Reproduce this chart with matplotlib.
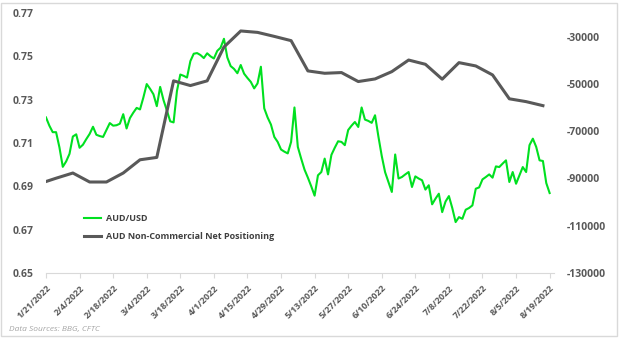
import matplotlib
matplotlib.use("Agg")
import matplotlib.pyplot as plt
import numpy as np
import pandas as pd
from matplotlib.patches import Rectangle
from matplotlib.transforms import ScaledTranslation

# daily AUD/USD closes, 1/21/2022 .. 8/19/2022 (business days)
start_day = "2022-01-21"
end_day = "2022-08-19"
aud_usd = [
    0.7218, 0.7180, 0.7150, 0.7150, 0.7080, 0.6990, 0.7015, 0.7050, 0.7130, 0.7140,
    0.7078, 0.7092, 0.7118, 0.7142, 0.7175, 0.7138, 0.7132, 0.7128, 0.7160, 0.7192,
    0.7180, 0.7182, 0.7189, 0.7233, 0.7167, 0.7215, 0.7240, 0.7262, 0.7255, 0.7310,
    0.7372, 0.7350, 0.7325, 0.7270, 0.7359, 0.7298, 0.7250, 0.7200, 0.7195, 0.7340,
    0.7416, 0.7410, 0.7402, 0.7478, 0.7512, 0.7515, 0.7506, 0.7492, 0.7514, 0.7500,
    0.7490, 0.7525, 0.7540, 0.7581, 0.7495, 0.7455, 0.7442, 0.7422, 0.7460, 0.7420,
    0.7400, 0.7382, 0.7352, 0.7375, 0.7452, 0.7260, 0.7218, 0.7185, 0.7128, 0.7105,
    0.7070, 0.7060, 0.7052, 0.7105, 0.7264, 0.7082, 0.7028, 0.6977, 0.6940, 0.6900,
    0.6857, 0.6951, 0.6966, 0.7028, 0.6955, 0.7045, 0.7078, 0.7108, 0.7105, 0.7090,
    0.7160, 0.7180, 0.7197, 0.7174, 0.7264, 0.7208, 0.7202, 0.7193, 0.7228, 0.7130,
    0.7040, 0.6965, 0.6920, 0.6874, 0.7047, 0.6936, 0.6943, 0.6955, 0.6966, 0.6897,
    0.6946, 0.6936, 0.6928, 0.6885, 0.6905, 0.6817, 0.6843, 0.6866, 0.6781, 0.6830,
    0.6855, 0.6800, 0.6735, 0.6758, 0.6750, 0.6792, 0.6800, 0.6812, 0.6889, 0.6895,
    0.6932, 0.6943, 0.6955, 0.6940, 0.6992, 0.6989, 0.7005, 0.7020, 0.6920, 0.6966,
    0.6912, 0.6951, 0.6989, 0.6966, 0.7090, 0.7120, 0.7082, 0.7020, 0.7017, 0.6915,
    0.6869,
]

# weekly CFTC net positioning (contracts)
cftc_dates = ["2022-01-21"] + [d.strftime("%Y-%m-%d") for d in pd.date_range("2022-01-26", "2022-08-17", freq="7D")]
net_pos = [
    -91300, -89900, -87700, -91500, -91500, -87700, -82100, -81100, -48700, -50700,
    -48700, -34400, -27600, -28200, -29900, -31700, -44500, -45500, -45200, -49000,
    -47900, -44800, -39900, -41700, -48000, -41000, -42400, -46200, -56300, -57500,
    -59200,
]

left_ticks = [0.65, 0.67, 0.69, 0.71, 0.73, 0.75, 0.77]
right_ticks = [-130000, -110000, -90000, -70000, -50000, -30000]

plt.rcParams["font.family"] = ["Open Sans", "DejaVu Sans"]
txt_col = "#595959"

dates = pd.bdate_range(start_day, end_day)
x = np.arange(len(dates))
cftc_x = dates.get_indexer(pd.to_datetime(cftc_dates))

fig = plt.figure(figsize=(6.24, 3.4), dpi=100)
ax = fig.add_axes([46 / 624, 67 / 340, 508 / 624, 260 / 340])
l1, = ax.plot(x, aud_usd, color="#00e020", lw=1.5, label="AUD/USD")
ax2 = ax.twinx()
l2, = ax2.plot(cftc_x, net_pos, color="#595959", lw=2.2, label="AUD Non-Commercial Net Positioning")

ax.set_xlim(0, 151.3)
ax.set_ylim(0.65, 0.77)
ax2.set_ylim(-130000, -20000)

ax.set_yticks(left_ticks)
ax.set_yticklabels([f"{v:.2f}" for v in left_ticks], fontweight="bold", color=txt_col, fontsize=7.5)
ax2.set_yticks(right_ticks)
ax2.set_yticklabels([str(v) for v in right_ticks], fontweight="bold", color=txt_col, fontsize=7.5)

xt = x[::10]
ax.set_xticks(xt)
ax.set_xticklabels([f"{dates[i].month}/{dates[i].day}/{dates[i].year}" for i in xt],
                   rotation=45, ha="right", va="top", rotation_mode="anchor",
                   fontweight="bold", color=txt_col, fontsize=6.5)
shift = ScaledTranslation(3 / 100, 0, fig.dpi_scale_trans)
for lab in ax.get_xticklabels():
    lab.set_transform(lab.get_transform() + shift)

for s in ["top", "left", "right"]:
    ax.spines[s].set_visible(False)
for s in ax2.spines.values():
    s.set_visible(False)
ax.spines["bottom"].set_color("#d9d9d9")
ax.tick_params(axis="y", length=0, pad=9)
ax2.tick_params(axis="y", length=0, pad=9)
ax.tick_params(axis="x", length=3.5, color="#d9d9d9", pad=4)

leg = ax.legend(handles=[l1, l2], frameon=False, loc="upper left",
                bbox_to_anchor=(84 / 624, 1 - 214 / 340), bbox_transform=fig.transFigure,
                borderaxespad=0, borderpad=0, handlelength=1.9, handletextpad=0.55,
                labelspacing=1.05, prop={"weight": "bold", "size": 6.5})
for t in leg.get_texts():
    t.set_color("#404040")

fig.text(9 / 624, 1 - 330 / 340, "Data Sources: BBG, CFTC", style="italic",
         fontsize=6, color="#a6a6a6", va="center")
fig.patches.append(Rectangle((1 / 624, 4 / 340), 616 / 624, 333 / 340, fill=False,
                             edgecolor="#d9d9d9", lw=1, transform=fig.transFigure))

fig.savefig("out.png", dpi=100)
